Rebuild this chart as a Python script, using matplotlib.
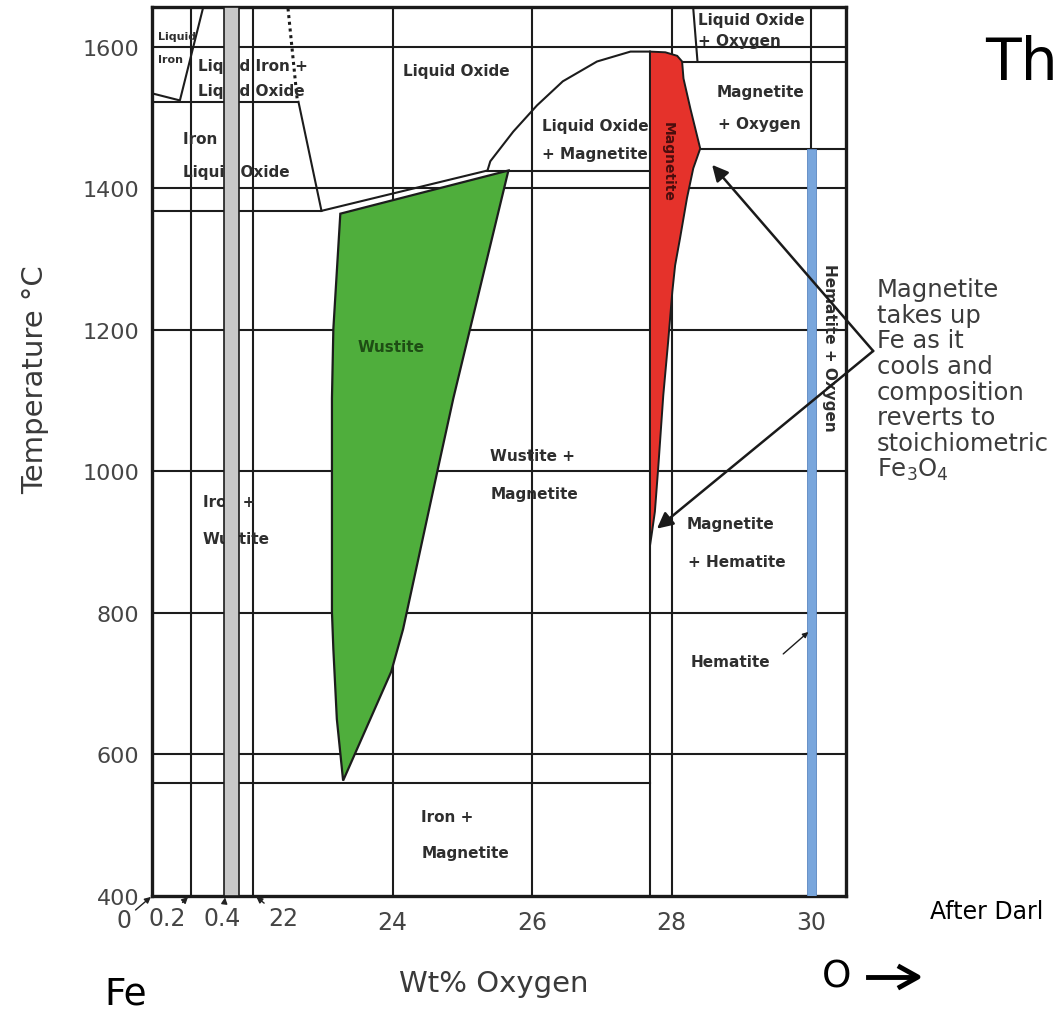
import matplotlib.pyplot as plt
from matplotlib.patches import Polygon, Rectangle

# Fe-O phase diagram
# x is wt% O; the strip left of 22 is the stretched 0 - 0.4 wt% part of the broken axis
x_left, x_right = 20.55, 30.5
t_low, t_high = 400, 1656

grid_temps = [600, 800, 1000, 1200, 1400, 1600]
grid_wt = [21.11, 22, 24, 26, 28]
magnetite_line = 27.69
hematite_line = 30.0
iron_band = [21.58, 21.80]

# horizontal phase boundaries
iso_t = [1522, 1368, 1425, 1579, 1455, 560]
iso_x0 = [20.55, 20.55, 25.36, 28.15, 28.41, 20.55]
iso_x1 = [22.65, 22.98, 27.69, 30.5, 30.5, 27.69]

liq_iron_x = [20.55, 20.95, 21.28]
liq_iron_t = [1534, 1524, 1654]

dotted_x = [22.50, 22.63]
dotted_t = [1654, 1527]

fe_liq_x = [22.65, 22.98]
fe_liq_t = [1522, 1368]

liquidus_x = [22.98, 25.36, 25.40, 25.73, 26.07, 26.44, 26.93, 27.41, 27.69]
liquidus_t = [1368, 1425, 1438, 1480, 1517, 1551, 1579, 1593, 1593]

lox_x = [28.31, 28.37]
lox_t = [1654, 1580]

wustite_x = [23.25, 25.66, 25.11, 24.87, 24.65, 24.15, 23.98, 23.29,
             23.20, 23.15, 23.13, 23.13, 23.15]
wustite_t = [1364, 1425, 1201, 1103, 1004, 777, 717, 563,
             650, 749, 801, 1103, 1201]

magn_x = [27.69, 27.91, 28.08, 28.15, 28.17, 28.27, 28.41, 28.31, 28.22,
          28.12, 28.05, 28.01, 27.95, 27.88, 27.81, 27.76, 27.72, 27.69]
magn_t = [1593, 1592, 1587, 1579, 1555, 1512, 1456, 1428, 1386,
          1329, 1291, 1254, 1183, 1107, 1008, 943, 915, 895]

ytick_vals = [400, 600, 800, 1000, 1200, 1400, 1600]
xtick_vals = [24, 26, 28, 30]

line_c = '#1c1c1c'
lab_c = '#2e2e2e'

fig = plt.figure(figsize=(10.63, 10.20), dpi=100)
ax = fig.add_axes([152/1063, 1 - 897/1020, 694/1063, 889/1020])
ax.set_xlim(x_left, x_right)
ax.set_ylim(t_low, t_high)

# grid of the original figure
for t in grid_temps:
    ax.plot([x_left, x_right], [t, t], color=line_c, lw=1.5, zorder=1)
for w in grid_wt:
    ax.plot([w, w], [t_low, t_high], color=line_c, lw=1.5, zorder=1)
ax.plot([magnetite_line]*2, [t_low, magn_t[0]], color=line_c, lw=1.5, zorder=1)
ax.plot([hematite_line]*2, [iso_t[4], t_high], color=line_c, lw=1.5, zorder=1)

for t, a, b in zip(iso_t, iso_x0, iso_x1):
    ax.plot([a, b], [t, t], color=line_c, lw=1.5, zorder=1)

ax.plot(liq_iron_x, liq_iron_t, color=line_c, lw=1.5, zorder=1)
ax.plot(dotted_x, dotted_t, color=line_c, lw=2.2, ls=(0, (1, 1.2)), zorder=1)
ax.plot(fe_liq_x, fe_liq_t, color=line_c, lw=1.5, zorder=1)
ax.plot(liquidus_x, liquidus_t, color=line_c, lw=1.5, zorder=1)
ax.plot(lox_x, lox_t, color=line_c, lw=1.5, zorder=1)

ax.add_patch(Polygon(list(zip(wustite_x, wustite_t)), closed=True,
                     facecolor='#4fae3c', edgecolor=line_c, lw=1.6, zorder=2))
ax.add_patch(Polygon(list(zip(magn_x, magn_t)), closed=True,
                     facecolor='#e5322b', edgecolor=line_c, lw=1.4, zorder=2))

# iron (grey) and hematite (blue) bands
ax.add_patch(Rectangle((iron_band[0], t_low), iron_band[1] - iron_band[0], t_high - t_low,
                       facecolor='#c8c8c8', edgecolor=line_c, lw=1.2, zorder=5))
ax.add_patch(Rectangle((hematite_line - 0.065, t_low), 0.13, iso_t[4] - t_low,
                       facecolor='#79a6dc', edgecolor='#5b86c0', lw=0.6, zorder=5))

# region labels
bold = dict(fontsize=11, fontweight='bold', color=lab_c, zorder=4, va='center')
ax.text(20.64, 1615, 'Liquid', **{**bold, 'fontsize': 8})
ax.text(20.64, 1583, 'Iron', **{**bold, 'fontsize': 8})
ax.text(21.21, 1573, 'Liquid Iron +', **bold)
ax.text(21.21, 1538, 'Liquid Oxide', **bold)
ax.text(21.00, 1470, 'Iron +', **bold)
ax.text(21.00, 1423, 'Liquid Oxide', **bold)
ax.text(24.15, 1566, 'Liquid Oxide', **bold)
ax.text(28.38, 1638, 'Liquid Oxide', **bold)
ax.text(28.38, 1608, '+ Oxygen', **bold)
ax.text(28.65, 1536, 'Magnetite', **bold)
ax.text(28.67, 1491, '+ Oxygen', **bold)
ax.text(26.14, 1488, 'Liquid Oxide', **bold)
ax.text(26.14, 1449, '+ Magnetite', **bold)
ax.text(27.95, 1439, 'Magnetite', **{**bold, 'color': '#4a0d0d', 'fontsize': 10},
        rotation=270, ha='center')
ax.text(23.98, 1176, 'Wustite', **{**bold, 'color': '#1e4d14'}, ha='center')
ax.text(25.40, 1022, 'Wustite +', **bold)
ax.text(25.40, 968, 'Magnetite', **bold)
ax.text(21.28, 957, 'Iron +', **bold)
ax.text(21.28, 905, 'Wustite', **bold)
ax.text(28.22, 926, 'Magnetite', **bold)
ax.text(28.24, 872, '+ Hematite', **bold)
ax.text(28.27, 732, 'Hematite', **bold)
ax.text(24.41, 513, 'Iron +', **bold)
ax.text(24.41, 462, 'Magnetite', **bold)
ax.text(30.26, 1176, 'Hematite + Oxygen', **bold, rotation=270, ha='center')
ax.annotate('', xy=(29.96, 773), xytext=(29.60, 742),
            arrowprops=dict(arrowstyle='-|>', lw=1, mutation_scale=8, color=line_c,
                            shrinkA=0, shrinkB=0), zorder=6)

# pointer arrows from the note
apex = (30.89, 1170)
for head in [(28.58, 1433), (27.79, 919)]:
    ax.annotate('', xy=head, xytext=apex, annotation_clip=False,
                arrowprops=dict(arrowstyle='-|>', lw=1.8, mutation_scale=24, color='#1a1a1a',
                                shrinkA=0, shrinkB=0), zorder=7)

# axes
ax.set_yticks(ytick_vals)
ax.set_yticklabels([str(v) for v in ytick_vals], fontsize=16, color='#454545')
ax.set_xticks(xtick_vals)
ax.set_xticklabels([str(v) for v in xtick_vals], fontsize=17, color='#454545')
ax.tick_params(length=0)
ax.tick_params(axis='y', pad=9)
ax.tick_params(axis='x', pad=10)
for s in ax.spines.values():
    s.set_linewidth(2.4)
    s.set_color('#1a1a1a')

# labels of the broken part of the axis, with their little arrows
broken_labels = ['0', '0.2', '0.4', '22']
broken_targets = [20.55, 21.08, 21.60, 22.03]
broken_offsets = [(-20, -17), (-16, -16), (-2, -16), (20, -16)]
for lab, xt, off in zip(broken_labels, broken_targets, broken_offsets):
    ax.annotate(lab, xy=(xt, t_low), xytext=off, textcoords='offset points',
                ha='center', va='center', fontsize=17, color='#454545',
                annotation_clip=False,
                arrowprops=dict(arrowstyle='-|>', lw=1, mutation_scale=9, color='#222222',
                                shrinkA=1, shrinkB=1))

fig.text(35/1063, 1 - 380/1020, 'Temperature °C', rotation=90, fontsize=21,
         color='#3a3a3a', ha='center', va='center')
fig.text(494/1063, 1 - 984/1020, 'Wt% Oxygen', fontsize=21, color='#3a3a3a',
         ha='center', va='center')
fig.text(104/1063, 1 - 995/1020, 'Fe', fontsize=27, ha='left', va='center')
fig.text(822/1063, 1 - 978/1020, 'O', fontsize=27, ha='left', va='center')
fig.add_artist(plt.Line2D([868/1063, 912/1063], [1 - 978/1020]*2, color='black', lw=3.5))
fig.add_artist(plt.Line2D([900/1063, 918/1063, 900/1063],
                          [1 - 968/1020, 1 - 978/1020, 1 - 988/1020], color='black', lw=3.5))

note = ['Magnetite', 'takes up', 'Fe as it', 'cools and', 'composition',
        'reverts to', 'stoichiometric', r'Fe$_3$O$_4$']
for i, line in enumerate(note):
    fig.text(877/1063, 1 - (290 + 25.7*i)/1020, line, fontsize=17.5, color='#3c3c3c',
             ha='left', va='center')

fig.text(985/1063, 1 - 80/1020, 'Th', fontsize=42, ha='left', va='baseline')
fig.text(930/1063, 1 - 912/1020, 'After Darl', fontsize=17, ha='left', va='center')

fig.savefig('out.png', dpi=100)
